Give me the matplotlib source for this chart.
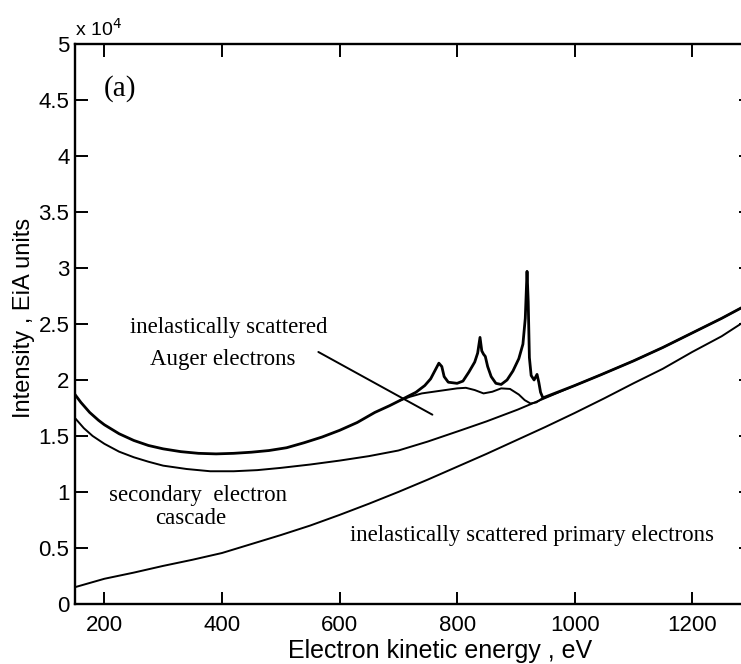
import numpy as np
import matplotlib.pyplot as plt
from matplotlib.ticker import FuncFormatter

plt.rcParams['font.family'] = ['Liberation Sans', 'DejaVu Sans']

# total spectrum (background + Auger peaks)
total_e = [150, 160, 175, 190, 200, 225, 250, 275, 300, 330, 360, 390, 420, 450, 480,
           510, 540, 570, 600, 630, 660, 685, 704, 715, 730, 745, 755, 763, 769, 774,
           778, 785, 800, 810, 820, 830, 835, 839, 842, 845, 848, 852, 858, 866, 875,
           885, 895, 905, 912, 916, 919, 921, 923, 926, 931, 936, 939, 942, 946]
total_i = [18700, 18000, 17100, 16400, 16000, 15200, 14600, 14150, 13850, 13600, 13450,
           13400, 13450, 13550, 13700, 13950, 14400, 14900, 15500, 16200, 17100, 17700,
           18200, 18500, 18900, 19500, 20100, 20900, 21500, 21200, 20300, 19800, 19700,
           19900, 20700, 21600, 22400, 23800, 22600, 22300, 22100, 21200, 20300, 19700,
           19600, 20000, 20800, 21900, 23200, 25500, 29700, 27000, 22000, 20400, 20000,
           20500, 19800, 18900, 18400]

# inelastically scattered Auger electrons (hump under the peaks)
hump_e = [704, 720, 740, 760, 780, 800, 815, 830, 845, 860, 875, 890, 905, 915, 925, 935, 946]
hump_i = [18200, 18500, 18800, 18950, 19100, 19250, 19300, 19100, 18800, 18950, 19250,
          19200, 18700, 18200, 17900, 18000, 18400]

# secondary electron cascade + primary background
casc_e = [150, 165, 180, 200, 225, 250, 275, 300, 340, 380, 420, 460, 500, 550, 600, 650,
          700, 750, 806, 850, 903, 946, 1000, 1044, 1100, 1150, 1200, 1250, 1300]
casc_i = [16600, 15700, 15000, 14300, 13600, 13100, 12700, 12350, 12050, 11850, 11850,
          11950, 12150, 12450, 12800, 13200, 13700, 14500, 15500, 16300, 17350, 18300,
          19500, 20450, 21700, 22900, 24200, 25500, 26900]

# inelastically scattered primary electrons
prim_e = [150, 200, 250, 300, 350, 400, 450, 500, 550, 600, 650, 700, 750, 800, 850, 900,
          950, 1000, 1050, 1100, 1150, 1200, 1250, 1300]
prim_i = [1500, 2250, 2800, 3400, 3950, 4550, 5350, 6150, 7000, 7950, 8950, 10000, 11100,
          12250, 13400, 14600, 15800, 17050, 18350, 19700, 21000, 22500, 23900, 25600]

xticks = [200, 400, 600, 800, 1000, 1200]
yticks = [0, 5000, 10000, 15000, 20000, 25000, 30000, 35000, 40000, 45000, 50000]

fig = plt.figure(figsize=(7.41, 6.64), dpi=100)
ax = fig.add_axes([0.1012, 0.0904, 0.9123, 0.8434])

# the total spectrum runs on top of the background above ~946 eV
tail = [i for i, e in enumerate(casc_e) if e > 946]
top_e = total_e + [casc_e[i] for i in tail]
top_i = total_i + [casc_i[i] for i in tail]

ax.plot(casc_e, casc_i, color='black', lw=1.4)
ax.plot(prim_e, prim_i, color='black', lw=1.4)
ax.plot(hump_e, hump_i, color='black', lw=1.4)
ax.plot(top_e, top_i, color='black', lw=2.0)

ax.set_xlim(150, 1300)
ax.set_ylim(0, 50000)
ax.set_xticks(xticks)
ax.set_yticks(yticks)
ax.yaxis.set_major_formatter(FuncFormatter(lambda v, p: f"{v / 1e4:g}"))
ax.tick_params(direction='in', length=9, width=1.4, top=True, right=True,
               labelsize=16)
ax.tick_params(axis='x', pad=8)
ax.tick_params(axis='y', pad=4)
for s in ax.spines.values():
    s.set_linewidth(1.7)

ax.set_xlabel("Electron kinetic energy , eV", fontsize=18)
ax.xaxis.set_label_coords(0.54, -0.062)
ax.set_ylabel("Intensity , EiA units", fontsize=17)
ax.yaxis.set_label_coords(-0.059, 0.51)
ax.text(0.0, 1.008, "x 10$^{4}$", transform=ax.transAxes, fontsize=14,
        ha='left', va='bottom')

serif = ['Liberation Serif', 'DejaVu Serif']
ax.text(227, 46000, "(a)", family=serif, fontsize=21, ha='center', va='center')
ax.text(411, 24700, "inelastically scattered", family=serif, fontsize=16.5,
        ha='center', va='center')
ax.text(401, 21800, "Auger electrons", family=serif, fontsize=16.5,
        ha='center', va='center')
ax.annotate("", xy=(758, 16900), xytext=(564, 22500),
            arrowprops=dict(arrowstyle='-', lw=1.4, color='black',
                            shrinkA=0, shrinkB=0))
ax.text(360, 9700, "secondary  electron", family=serif, fontsize=16.5,
        ha='center', va='center')
ax.text(346, 7600, "cascade", family=serif, fontsize=16.5, ha='center', va='center')
ax.text(927, 6150, "inelastically scattered primary electrons", family=serif,
        fontsize=16.5, ha='center', va='center')

fig.savefig("out.png", dpi=100)
